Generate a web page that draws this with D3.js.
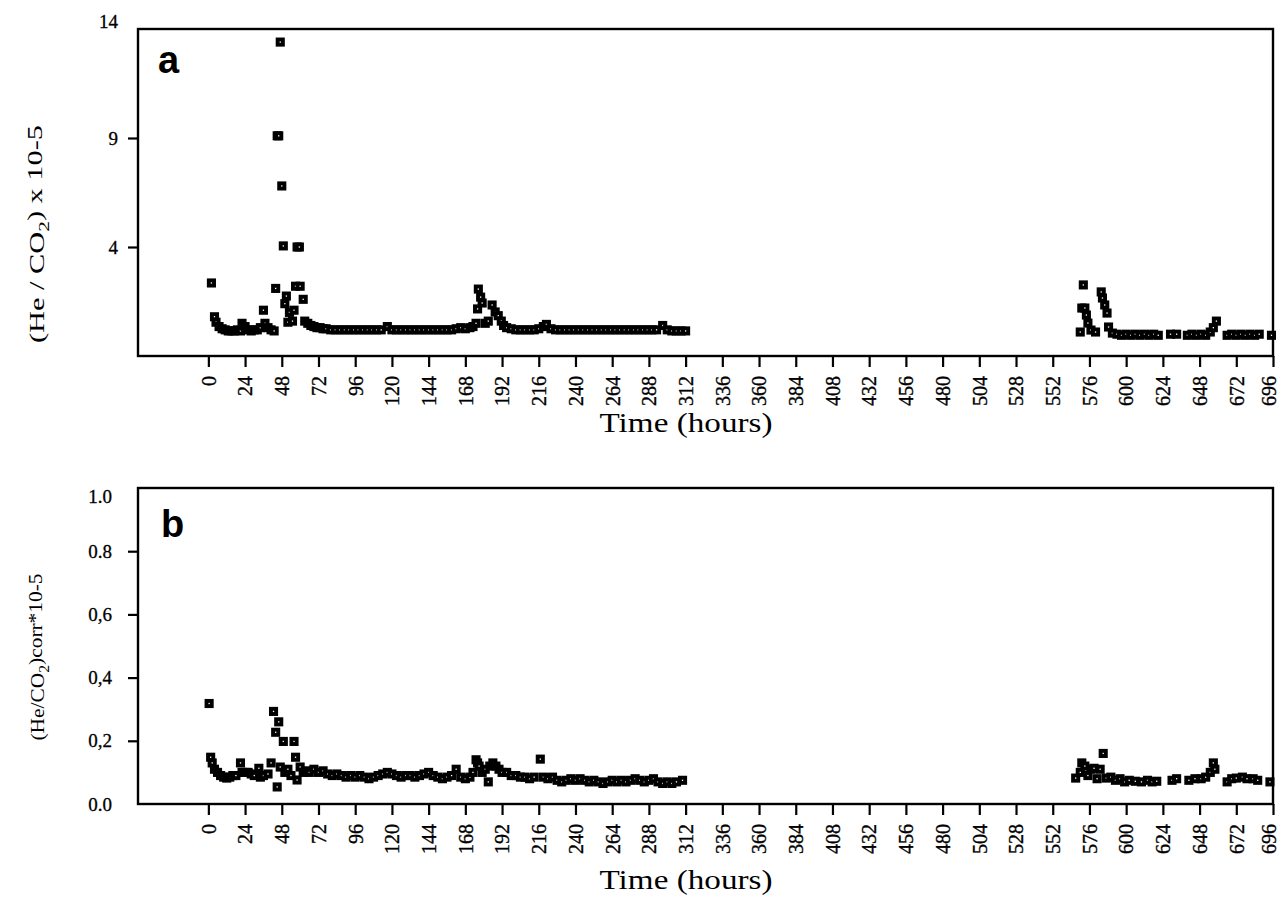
<!DOCTYPE html>
<html><head><meta charset="utf-8">
<script src="https://cdn.jsdelivr.net/npm/d3@7"></script>
<style>body{margin:0;background:#fff}svg{display:block}</style>
</head><body>
<svg id="c" width="1282" height="912"></svg>
<script>
// ---------- DATA ----------
const xTicks = [0,24,48,72,96,120,144,168,192,216,240,264,288,312,336,360,384,408,432,456,480,504,528,552,576,600,624,648,672,696];

const yTicksA = [4, 9, 14];
const yTickLabelsA = ["4", "9", "14"];
const yTicksB = [0.0, 0.2, 0.4, 0.6, 0.8, 1.0];
const yTickLabelsB = ["0.0", "0,2", "0,4", "0,6", "0.8", "1.0"];

// Panel a : (He/CO2) x 10-5
const hoursA = [2,4,5,7,9,11,13,15,17,19,21,22,24,26,28,30,32,34,36,37,39,41,43,44,45,46,47,48,49,50,51,52,53,55,56,57,58,59.5,60,62,63,65,67,69,71,73,75,77,80,83,86,89,92,95,98,101,104,107,110,113,117,120,123,126,129,132,135,138,141,144,147,150,153,156,159,162,165,168,171,173,175,176,176.5,178,179,181,183,185.5,187.5,189.5,191.5,193,195,198,201,204,207,210,213,216,219,221,224,227,230,233,236,239,242,245,248,251,254,257,260,263,266,269,272,275,278,281,284,287,290,293,297,300,303,306,309,312,
  570,571,572,573,574,575,577,580,583.7,584.5,586,587.5,588.5,591,594,597,600,603,606,609,612,615,618,621,629,633,640,643,646,649,652,655,657,659,666,669,672,675,678,681,684,687,695];
const heCO2 = [2.35,0.8,0.55,0.35,0.25,0.2,0.15,0.15,0.15,0.2,0.15,0.5,0.35,0.2,0.15,0.2,0.2,0.3,1.1,0.5,0.3,0.2,0.15,2.1,9.1,9.1,13.4,6.8,4.05,1.4,1.75,0.55,1.0,0.6,1.1,2.2,4.0,4.0,2.2,1.6,0.6,0.5,0.4,0.35,0.3,0.3,0.25,0.25,0.2,0.2,0.2,0.2,0.2,0.2,0.2,0.2,0.2,0.2,0.2,0.2,0.35,0.2,0.2,0.2,0.2,0.2,0.2,0.2,0.2,0.2,0.2,0.2,0.2,0.2,0.2,0.25,0.3,0.25,0.3,0.35,0.5,1.16,2.07,1.7,1.43,0.5,0.6,1.34,1.02,0.85,0.6,0.4,0.3,0.25,0.2,0.2,0.2,0.2,0.2,0.25,0.35,0.45,0.25,0.2,0.2,0.2,0.2,0.2,0.2,0.2,0.2,0.2,0.2,0.2,0.2,0.2,0.2,0.2,0.2,0.2,0.2,0.2,0.2,0.2,0.2,0.2,0.4,0.2,0.15,0.15,0.15,0.15,
  0.1,1.2,2.26,1.2,0.88,0.51,0.19,0.1,1.94,1.66,1.34,0.97,0.33,0.05,0.0,-0.05,0.0,-0.05,0.0,-0.05,0.0,-0.05,0.0,-0.05,0.0,0.0,-0.05,0.0,-0.05,0.0,-0.05,0.1,0.3,0.6,-0.05,0.0,-0.05,0.0,-0.05,0.0,-0.05,0.0,-0.05];

// Panel b : (He/CO2)corr * 10-5
const hoursB = [0.5,1.5,2.5,4,6,8,10,12,14,16,18,21,22,24,26,28,30,33,34,36,39,41,42.6,44,45,46,47,49,50,52,54,56,57,58,60,62,64,66,69,72,75,78,81,84,87,90,93,96,99,102,105,108,111,114,117,120,123,126,129,132,135,138,141,144,147,150,153,156,159,162,165,168,171,173,175,176,177,179,181,183,184,186,188,190,192,195,198,201,204,207,210,213,217,219,222,225,228,231,234,237,240,243,246,249,252,255,258,261,264,267,270,273,276,279,282,285,288,291,294,297,300,303,306,310,
  567,570,571,573,575,577,579,581,583,585,587,590,593,596,599,602,606,610,614,617,620,630,633,641,645,649,652,655,657,658,666,669,672,676,679,683,686,694];
const heCO2corr = [0.318,0.148,0.13,0.11,0.1,0.09,0.085,0.082,0.085,0.09,0.09,0.13,0.1,0.1,0.1,0.095,0.09,0.113,0.085,0.09,0.095,0.13,0.293,0.227,0.054,0.26,0.117,0.198,0.1,0.11,0.09,0.198,0.148,0.076,0.117,0.1,0.105,0.1,0.11,0.1,0.105,0.095,0.09,0.095,0.09,0.085,0.09,0.085,0.09,0.085,0.08,0.085,0.09,0.095,0.1,0.095,0.09,0.085,0.09,0.09,0.085,0.09,0.095,0.1,0.09,0.085,0.08,0.085,0.09,0.11,0.085,0.08,0.085,0.1,0.14,0.13,0.12,0.1,0.11,0.07,0.12,0.13,0.12,0.11,0.1,0.1,0.09,0.09,0.085,0.085,0.08,0.085,0.142,0.085,0.08,0.085,0.075,0.07,0.075,0.08,0.075,0.08,0.075,0.07,0.075,0.07,0.065,0.07,0.075,0.07,0.075,0.07,0.075,0.08,0.075,0.07,0.075,0.08,0.07,0.065,0.07,0.065,0.07,0.075,
  0.082,0.1,0.13,0.12,0.09,0.11,0.113,0.08,0.11,0.16,0.082,0.085,0.075,0.08,0.07,0.075,0.072,0.07,0.075,0.07,0.072,0.075,0.08,0.075,0.08,0.08,0.085,0.1,0.13,0.11,0.07,0.08,0.082,0.085,0.08,0.08,0.075,0.07];

// ---------- DRAW ----------
const svg = d3.select("#c");
const serif = "'Liberation Serif','Times New Roman',serif";
const x = d3.scaleLinear().domain([-46, 696]).range([138, 1273]);

function panel(cfg) {
  const g = svg.append("g");
  const y = d3.scaleLinear().domain(cfg.yDomain).range([cfg.bottom, cfg.top]);

  // x axis
  const xa = g.append("g").attr("transform", `translate(0,${cfg.bottom})`)
    .call(d3.axisBottom(x).tickValues(xTicks).tickSize(11).tickSizeOuter(0).tickFormat(d3.format("d")));
  xa.select(".domain").remove();
  xa.selectAll("line").attr("stroke", "#000").attr("stroke-width", 2.2);
  xa.selectAll("text")
    .attr("transform", "rotate(-90)")
    .attr("x", -20).attr("y", 0)
    .attr("dy", (d) => d === 696 ? "0.1em" : "0.34em")
    .style("text-anchor", "end")
    .style("font-family", serif).style("font-size", "20px").attr("fill", "#000")
    .attr("stroke", "#000").attr("stroke-width", 0.35);

  // y axis
  const ya = g.append("g").attr("transform", `translate(${x.range()[0]},0)`)
    .call(d3.axisLeft(y).tickValues(cfg.yTicks).tickSize(10).tickSizeOuter(0)
      .tickFormat((d, i) => cfg.yLabels[i]));
  ya.select(".domain").remove();
  ya.selectAll("line").attr("stroke", "#000").attr("stroke-width", 2.2);
  ya.selectAll("text")
    .attr("x", -cfg.labelPad)
    .attr("dy", (d) => d === cfg.yDomain[1] ? cfg.topShift : "0.32em")
    .style("font-family", serif).style("font-size", "19px").attr("fill", "#000")
    .attr("stroke", "#000").attr("stroke-width", 0.3);
  ya.selectAll(".tick").filter(d => d === cfg.yDomain[1] || d === cfg.yDomain[0]).select("line").remove();

  // frame
  g.append("rect").attr("x", x.range()[0]).attr("y", cfg.top)
    .attr("width", x.range()[1] - x.range()[0]).attr("height", cfg.bottom - cfg.top)
    .attr("fill", "none").attr("stroke", "#000").attr("stroke-width", 2.4);

  // points
  g.append("g").selectAll("rect").data(cfg.hours)
    .join("rect")
    .attr("x", (d) => x(d) - 2.6)
    .attr("y", (d, i) => y(cfg.values[i]) - 2.6)
    .attr("width", 5.2).attr("height", 5.2)
    .attr("fill", "#fff").attr("stroke", "#000").attr("stroke-width", 3.9);

  // panel letter
  g.append("text").attr("x", cfg.letterX).attr("y", cfg.letterY).text(cfg.letter)
    .style("font-family", "'Liberation Sans',Arial,sans-serif").style("font-weight", "bold")
    .style("font-size", "38px").attr("fill", "#000");

  // x title
  g.append("text").attr("x", 686).attr("y", cfg.xTitleY).attr("text-anchor", "middle")
    .attr("textLength", 173).attr("lengthAdjust", "spacingAndGlyphs")
    .style("font-family", serif).style("font-size", "27px").attr("fill", "#000")
    .text("Time (hours)");

  // y title
  const yt = g.append("text")
    .attr("transform", `translate(44,${cfg.yTitleCY}) rotate(-90)`)
    .attr("text-anchor", "middle")
    .attr("textLength", cfg.yTitleLen).attr("lengthAdjust", "spacingAndGlyphs")
    .style("font-family", serif).style("font-size", cfg.yTitleSize).attr("fill", "#000");
  yt.append("tspan").text(cfg.yTitle[0]);
  yt.append("tspan").attr("dy", "0.35em").style("font-size", "14px").text("2");
  yt.append("tspan").attr("dy", "-0.35em").text(cfg.yTitle[1]);
}

panel({
  top: 29, bottom: 356, yDomain: [-1, 14], yTicks: yTicksA, yLabels: yTickLabelsA,
  labelPad: 20, topShift: "-0.1em",
  hours: hoursA, values: heCO2, letter: "a", letterX: 158, letterY: 73,
  xTitleY: 432, yTitleCY: 234, yTitleLen: 218, yTitleSize: "20px", yTitle: ["(He / CO", ") x 10-5"]
});
panel({
  top: 488, bottom: 804, yDomain: [0, 1], yTicks: yTicksB, yLabels: yTickLabelsB,
  labelPad: 26, topShift: "0.75em",
  hours: hoursB, values: heCO2corr, letter: "b", letterX: 161, letterY: 537,
  xTitleY: 889, yTitleCY: 657, yTitleLen: 167, yTitleSize: "19px", yTitle: ["(He/CO", ")corr*10-5"]
});
</script>
</body></html>
